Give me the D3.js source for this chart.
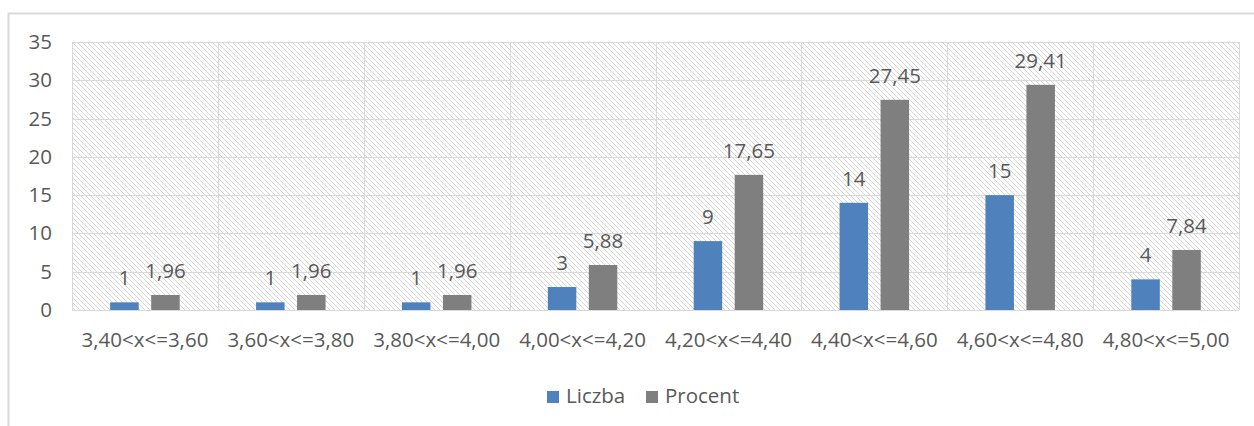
<!DOCTYPE html>
<html>
<head>
<meta charset="utf-8">
<script src="https://d3js.org/d3.v7.min.js"></script>
<style>
    body { margin: 0; background: #ffffff; }
    svg text { font-family: "Open Sans", sans-serif; fill: #595959; }
</style>
</head>
<body>
<svg id="chart" width="1254" height="426"></svg>
<script>
    // values
    var categories = ["3,40<x<=3,60", "3,60<x<=3,80", "3,80<x<=4,00", "4,00<x<=4,20",
                      "4,20<x<=4,40", "4,40<x<=4,60", "4,60<x<=4,80", "4,80<x<=5,00"];
    var liczba = [1, 1, 1, 3, 9, 14, 15, 4];
    var procent = [1.96, 1.96, 1.96, 5.88, 17.65, 27.45, 29.41, 7.84];
    var seriesNames = ["Liczba", "Procent"];
    var seriesColors = ["#4f81bd", "#7f7f7f"];
    var yTicks = [0, 5, 10, 15, 20, 25, 30, 35];

    var svg = d3.select("#chart"),
        margin = {top: 42, right: 15, bottom: 116, left: 72},
        width = +svg.attr("width") - margin.left - margin.right,
        height = +svg.attr("height") - margin.top - margin.bottom;

    var fontSize = "20.5px";

    // chart frame (runs off the right edge like the screenshot)
    svg.append("rect")
        .attr("x", 8.5).attr("y", 13.5)
        .attr("width", 1260).attr("height", 420)
        .attr("fill", "none")
        .attr("stroke", "#d9d9d9")
        .attr("stroke-width", 2);

    var defs = svg.append("defs");
    var pat = defs.append("pattern")
        .attr("id", "hatch")
        .attr("patternUnits", "userSpaceOnUse")
        .attr("width", 5).attr("height", 5);
    pat.append("rect").attr("width", 5).attr("height", 5).attr("fill", "#ffffff");
    pat.append("path")
        .attr("d", "M0,0 L5,5 M-1,4 L1,6 M4,-1 L6,1")
        .attr("stroke", "#d6d6d6")
        .attr("stroke-width", 1);

    var x = d3.scaleBand().domain(categories).range([0, width]);
    var y = d3.scaleLinear().domain([0, 35]).range([height, 0]);

    var g = svg.append("g")
        .attr("transform", "translate(" + margin.left + "," + margin.top + ")");

    g.append("rect")
        .attr("width", width).attr("height", height)
        .attr("fill", "url(#hatch)");

    // horizontal gridlines
    g.selectAll(".hgrid")
        .data(yTicks)
        .enter().append("line")
        .attr("class", "hgrid")
        .attr("x1", 0).attr("x2", width)
        .attr("y1", function (d) { return Math.round(y(d)) + 0.5; })
        .attr("y2", function (d) { return Math.round(y(d)) + 0.5; })
        .attr("stroke", "#d9d9d9");

    // vertical gridlines between categories
    g.selectAll(".vgrid")
        .data(categories.concat(["end"]))
        .enter().append("line")
        .attr("class", "vgrid")
        .attr("x1", function (d, i) { return Math.round(i * x.step()) + 0.5; })
        .attr("x2", function (d, i) { return Math.round(i * x.step()) + 0.5; })
        .attr("y1", 0).attr("y2", height)
        .attr("stroke", "#d9d9d9");

    // y axis labels
    g.append("g")
        .attr("class", "y axis")
        .call(d3.axisLeft(y).tickValues(yTicks).tickSize(0).tickPadding(20))
        .call(function (a) { a.select(".domain").remove(); })
        .selectAll("text")
        .style("font-size", fontSize)
        .attr("fill", "#595959");

    // x axis labels
    g.append("g")
        .attr("class", "x axis")
        .attr("transform", "translate(0," + height + ")")
        .call(d3.axisBottom(x).tickSize(0).tickPadding(22))
        .call(function (a) { a.select(".domain").remove(); })
        .selectAll("text")
        .style("font-size", fontSize)
        .attr("fill", "#595959");

    var barW = 28.5, gap = 12.5;
    var sub = d3.scaleOrdinal().domain(seriesNames).range([
        x.bandwidth() / 2 - gap / 2 - barW,
        x.bandwidth() / 2 + gap / 2
    ]);

    var rows = categories.map(function (c, i) {
        return [{cat: c, s: "Liczba", v: liczba[i], label: String(liczba[i])},
                {cat: c, s: "Procent", v: procent[i], label: procent[i].toFixed(2).replace(".", ",")}];
    });
    var flat = [].concat.apply([], rows);

    g.selectAll(".bar")
        .data(flat)
        .enter().append("rect")
        .attr("class", "bar")
        .attr("x", function (d) { return x(d.cat) + sub(d.s); })
        .attr("y", function (d) { return y(d.v); })
        .attr("width", barW)
        .attr("height", function (d) { return y(0) - y(d.v); })
        .attr("fill", function (d) { return seriesColors[seriesNames.indexOf(d.s)]; });

    g.selectAll(".lbl")
        .data(flat)
        .enter().append("text")
        .attr("class", "lbl")
        .attr("x", function (d) { return x(d.cat) + sub(d.s) + barW / 2; })
        .attr("y", function (d) { return y(d.v) - 17; })
        .attr("text-anchor", "middle")
        .style("font-size", fontSize)
        .text(function (d) { return d.label; });

    // legend
    var legend = svg.append("g").attr("transform", "translate(547,391)");
    var legX = [0, 99];
    seriesNames.forEach(function (n, i) {
        legend.append("rect")
            .attr("x", legX[i]).attr("y", 0)
            .attr("width", 12).attr("height", 12)
            .attr("fill", seriesColors[i]);
        legend.append("text")
            .attr("x", legX[i] + 19).attr("y", 12)
            .style("font-size", fontSize)
            .text(n);
    });
</script>
</body>
</html>
